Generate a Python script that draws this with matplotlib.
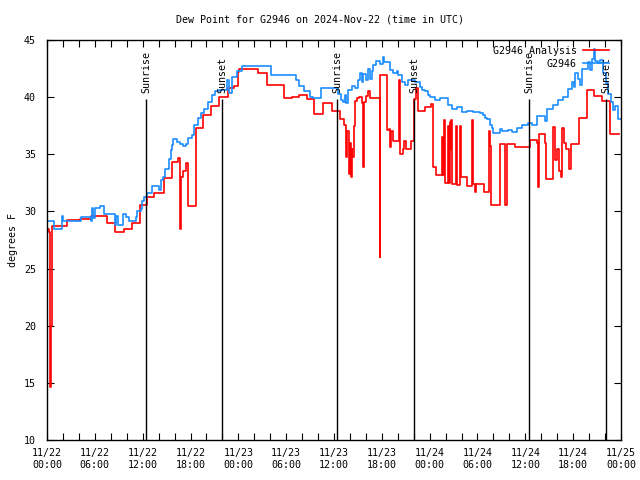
import matplotlib
matplotlib.use('Agg')
import matplotlib.pyplot as plt

# hours since 11/22 00:00 UTC, dew point in degrees F
analysis_hours = [0.00, 0.19, 0.34, 0.41, 0.50, 0.63, 2.55, 4.14, 5.48, 7.49,
                  8.57, 9.66, 10.66, 11.67, 12.58, 13.42, 14.68, 15.64, 16.43, 16.68,
                  16.81, 17.02, 17.40, 17.72, 18.65, 19.61, 20.57, 21.61, 22.67, 23.50,
                  23.92, 24.12, 26.51, 27.60, 29.69, 30.70, 31.61, 32.58, 33.53, 34.66,
                  35.71, 36.75, 37.26, 37.51, 37.63, 37.82, 37.95, 38.07, 38.20, 38.32,
                  38.45, 38.64, 38.89, 39.14, 39.51, 39.64, 39.77, 40.02, 40.27, 40.52,
                  41.71, 41.77, 42.59, 42.90, 43.03, 43.15, 43.40, 44.15, 44.28, 44.66,
                  44.78, 45.03, 45.66, 46.04, 46.29, 46.54, 47.42, 48.17, 48.42, 48.74,
                  49.51, 49.61, 49.80, 49.93, 50.24, 50.37, 50.49, 50.62, 50.68, 50.80,
                  51.31, 51.37, 51.81, 51.87, 52.65, 53.31, 53.44, 53.69, 53.81, 54.86,
                  55.48, 55.57, 55.70, 56.76, 57.51, 57.70, 58.71, 60.59, 61.43, 61.59,
                  61.72, 62.47, 62.60, 63.51, 63.72, 63.97, 64.23, 64.48, 64.60, 64.85,
                  65.10, 65.42, 65.73, 66.74, 67.70, 68.62, 69.66, 70.66, 71.75]
analysis_vals = [28.5, 28.2, 21.6, 14.6, 20.0, 28.7, 29.25, 29.3, 29.6, 29.0,
                 28.2, 28.5, 29.0, 30.6, 31.3, 31.6, 32.9, 34.3, 34.7, 28.5,
                 33.0, 33.5, 34.2, 30.5, 37.3, 38.4, 39.2, 40.0, 40.8, 41.0,
                 42.2, 42.5, 42.1, 41.1, 39.9, 40.0, 40.2, 39.8, 38.5, 39.5,
                 38.8, 38.1, 37.6, 34.8, 37.0, 33.3, 36.0, 33.0, 35.5, 34.8,
                 37.5, 39.7, 39.9, 40.0, 39.5, 33.9, 39.6, 40.1, 40.5, 39.9,
                 26.0, 41.9, 37.1, 37.2, 35.6, 37.0, 36.2, 41.5, 35.0, 35.5,
                 36.2, 35.5, 36.2, 39.8, 40.8, 38.8, 39.1, 39.4, 33.9, 33.2,
                 36.5, 33.2, 38.0, 32.5, 37.5, 32.5, 37.8, 35.5, 38.0, 32.4,
                 37.5, 32.3, 37.5, 33.0, 32.2, 38.0, 32.4, 31.7, 32.4, 31.7,
                 37.0, 35.7, 30.6, 35.9, 30.6, 35.9, 35.6, 36.25, 36.0, 32.1,
                 36.8, 36.0, 32.8, 37.4, 34.5, 35.5, 33.5, 33.0, 37.3, 36.0,
                 35.5, 33.7, 35.9, 38.2, 40.6, 40.1, 39.7, 36.75, 36.75]

station_hours = [0.00, 0.88, 1.92, 2.04, 4.30, 5.48, 5.61, 5.83, 5.96, 6.65,
                 7.15, 8.49, 8.65, 8.91, 9.57, 9.87, 10.29, 11.13, 11.33, 11.75,
                 11.95, 12.17, 12.58, 13.21, 14.05, 14.34, 14.59, 14.80, 15.30, 15.52,
                 15.72, 15.84, 16.35, 16.68, 17.10, 17.40, 17.72, 18.15, 18.44, 18.98,
                 19.28, 19.69, 20.16, 20.66, 21.07, 21.61, 22.54, 22.77, 23.17, 23.80,
                 24.50, 28.10, 31.24, 31.61, 32.28, 32.99, 33.37, 34.31, 36.13, 36.54,
                 36.88, 37.17, 37.38, 37.51, 37.76, 38.22, 38.64, 39.05, 39.26, 39.51,
                 39.68, 40.02, 40.27, 40.52, 40.77, 40.93, 41.27, 41.77, 42.15, 42.27,
                 43.03, 43.40, 43.87, 44.09, 44.49, 44.91, 45.32, 46.16, 46.79, 47.10,
                 47.42, 47.79, 48.04, 48.67, 49.30, 50.34, 50.77, 51.40, 52.02, 52.65,
                 53.48, 54.32, 54.73, 54.94, 55.16, 55.57, 55.82, 55.99, 56.83, 57.04,
                 57.87, 58.34, 58.93, 59.55, 60.38, 60.84, 61.43, 62.47, 62.68, 63.51,
                 64.14, 64.77, 65.32, 65.82, 66.05, 66.23, 66.65, 66.86, 67.07, 67.90,
                 68.12, 68.33, 68.62, 68.72, 69.12, 69.37, 69.78, 70.12, 70.41, 70.75,
                 71.00, 71.26, 71.67, 71.97]
station_vals = [29.2, 28.5, 29.6, 29.2, 29.5, 29.2, 30.3, 29.4, 30.3, 30.5,
                29.75, 28.8, 29.6, 28.8, 29.75, 29.5, 29.2, 29.5, 30.0, 30.2,
                30.9, 31.25, 31.6, 32.2, 31.9, 32.75, 33.0, 33.75, 34.6, 35.4,
                35.8, 36.3, 36.1, 35.9, 35.7, 35.9, 36.4, 36.7, 37.6, 38.2,
                38.6, 39.0, 39.6, 40.2, 40.5, 40.6, 41.5, 40.4, 41.8, 42.3,
                42.75, 41.9, 41.5, 41.0, 40.5, 40.0, 39.9, 40.8, 40.8, 40.3,
                39.75, 39.6, 40.2, 39.5, 40.6, 41.0, 40.8, 41.5, 42.1, 41.3,
                42.0, 41.5, 42.5, 41.6, 42.3, 42.8, 43.2, 42.9, 43.5, 43.1,
                42.4, 42.1, 42.3, 41.9, 41.3, 41.1, 41.5, 41.35, 40.9, 40.6,
                40.5, 40.2, 40.0, 39.75, 39.9, 39.3, 39.0, 39.1, 38.7, 38.8,
                38.7, 38.6, 38.4, 38.2, 38.1, 37.6, 37.3, 36.9, 37.2, 37.0,
                37.1, 36.95, 37.3, 37.6, 37.7, 37.6, 38.35, 37.9, 39.0, 39.3,
                39.75, 40.0, 40.7, 41.3, 40.9, 42.1, 41.6, 41.1, 42.5, 43.1,
                42.4, 43.3, 44.2, 43.2, 43.0, 43.25, 42.1, 41.2, 40.3, 39.6,
                38.9, 39.2, 38.1, 38.1]

sun_hours = [12.46, 21.99, 36.42, 46.08, 60.50, 70.16]
sun_labels = ['Sunrise', 'Sunset', 'Sunrise', 'Sunset', 'Sunrise', 'Sunset']

tick_hours = [0, 6, 12, 18, 24, 30, 36, 42, 48, 54, 60, 66, 72]
tick_labels = ['11/22\n00:00', '11/22\n06:00', '11/22\n12:00', '11/22\n18:00',
               '11/23\n00:00', '11/23\n06:00', '11/23\n12:00', '11/23\n18:00',
               '11/24\n00:00', '11/24\n06:00', '11/24\n12:00', '11/24\n18:00',
               '11/25\n00:00']

plt.rcParams['font.family'] = ['DejaVu Sans Mono']
plt.rcParams['font.size'] = 7.2

fig = plt.figure(figsize=(6.4, 4.8), dpi=100)
ax = fig.add_axes([47 / 640, 40 / 480, 574 / 640, 400 / 480])

ax.plot(analysis_hours, analysis_vals, drawstyle='steps-post', color='#ff0000', lw=1.2,
        label='G2946 Analysis')
ax.plot(station_hours, station_vals, drawstyle='steps-post', color='#1a8cff', lw=1.2,
        label='G2946')

ax.vlines(sun_hours, 10, 39.8, color='black', lw=1.0)
for h, lab in zip(sun_hours, sun_labels):
    ax.text(h, 40.4, lab, rotation=90, ha='center', va='bottom')

ax.set_xlim(0, 72)
ax.set_ylim(10, 45)
ax.set_xticks(tick_hours)
ax.set_xticklabels(tick_labels)
ax.set_xticks(range(0, 73, 2), minor=True)
ax.set_yticks(range(10, 46, 5))
ax.tick_params(which='both', direction='in', top=True, right=True, length=5, width=0.8)
ax.tick_params(axis='y', pad=8)
ax.tick_params(axis='x', pad=6)
for s in ax.spines.values():
    s.set_linewidth(1.0)

ax.set_ylabel('degrees F', labelpad=4)
fig.text(0.5, 1 - 19 / 480, 'Dew Point for G2946 on 2024-Nov-22 (time in UTC)',
         ha='center', va='center')

ax.legend(loc='upper right', bbox_to_anchor=(0.986, 0.995), frameon=False, markerfirst=False,
          handlelength=2.6, borderaxespad=0, labelspacing=0.3, handletextpad=0.6)

fig.savefig('out.png', dpi=100)
